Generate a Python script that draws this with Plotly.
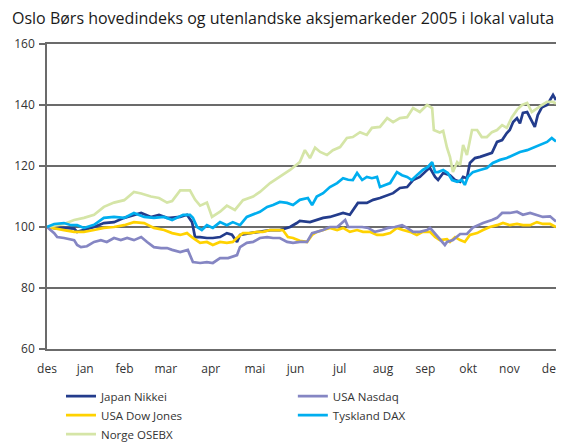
import plotly.graph_objects as go

# Month positions (0 = end of Dec 2004, 12 = end of Dec 2005)
month_ticks = [0, 0.9, 1.83, 2.8, 3.86, 4.9, 5.86, 6.9, 7.92, 8.92, 9.93, 10.9, 11.9]
month_labels = ["des", "jan", "feb", "mar", "apr", "mai", "jun", "jul", "aug", "sep", "okt", "nov", "des"]

nikkei_t = [0, 0.24, 0.40, 0.64, 0.71, 0.87, 1.11, 1.34, 1.58, 1.82, 2.05, 2.22, 2.45, 2.64, 2.83, 2.90, 3.14, 3.30, 3.42, 3.49, 3.61, 3.77, 3.91, 4.08, 4.24, 4.36, 4.48, 4.55, 4.79, 5.02, 5.26, 5.49, 5.73, 5.89, 5.96, 6.20, 6.36, 6.51, 6.67, 6.84, 6.98, 7.14, 7.26, 7.33, 7.54, 7.69, 7.85, 8.02, 8.16, 8.32, 8.49, 8.63, 8.79, 8.96, 9.03, 9.15, 9.22, 9.34, 9.50, 9.62, 9.74, 9.81, 9.90, 9.97, 10.09, 10.21, 10.37, 10.49, 10.61, 10.73, 10.84, 10.91, 10.99, 11.08, 11.15, 11.22, 11.32, 11.39, 11.50, 11.57, 11.67, 11.79, 11.86, 11.93, 12.00]
nikkei_v = [100, 99.5, 99.7, 99.5, 98.4, 99, 100, 101.3, 101.6, 103, 104, 104.6, 103.3, 104, 103, 103, 103.3, 104, 101.6, 96.7, 96.7, 96.4, 96.4, 96.7, 98, 97.5, 95.1, 97.4, 98, 98.4, 99, 99, 100, 101.3, 102, 101.6, 102.3, 103, 103.3, 104, 104.6, 104, 106.6, 107.9, 107.9, 108.9, 109.5, 110.5, 111.1, 112.8, 113.1, 115.4, 116.4, 118.7, 119.3, 116.4, 115.4, 117.7, 117, 115.4, 114.8, 116.4, 116, 121, 122.6, 123, 123.6, 124.3, 127.9, 128.5, 130.8, 131.8, 134.4, 135.7, 134, 137.4, 137.7, 135.7, 132.8, 136.7, 139.3, 140, 141.6, 143.3, 141.6]

dow_t = [0, 0.17, 0.40, 0.64, 0.87, 1.11, 1.34, 1.58, 1.82, 2.05, 2.29, 2.52, 2.76, 2.95, 3.14, 3.30, 3.44, 3.61, 3.77, 3.91, 4.08, 4.24, 4.38, 4.50, 4.62, 4.79, 4.95, 5.09, 5.26, 5.42, 5.56, 5.68, 5.80, 5.96, 6.13, 6.25, 6.36, 6.51, 6.67, 6.84, 6.98, 7.14, 7.31, 7.45, 7.61, 7.78, 7.92, 8.09, 8.25, 8.39, 8.56, 8.72, 8.86, 9.03, 9.15, 9.26, 9.43, 9.50, 9.62, 9.74, 9.85, 9.97, 10.14, 10.28, 10.44, 10.61, 10.75, 10.91, 11.08, 11.22, 11.39, 11.55, 11.69, 11.86, 12.00]
dow_v = [100, 99.5, 99, 98.4, 98.4, 99, 99.7, 100, 100.6, 101.6, 101.3, 99.7, 99, 98, 97.4, 98, 96.4, 94.8, 95.1, 94.1, 95.1, 94.8, 95.1, 96.7, 98, 98, 98.4, 98.4, 99, 99, 99, 96.7, 96.4, 95.5, 95.1, 97.4, 98.4, 99, 99.7, 99, 99.7, 98.4, 99, 98.4, 98.4, 97.4, 97.4, 98, 99.7, 99, 98.4, 97.4, 98.4, 98.4, 96.7, 95.7, 96, 95.1, 96.7, 95.7, 95.1, 97.4, 98, 99, 100, 100.6, 101.3, 100.6, 101, 100.6, 100.6, 101.6, 101, 101, 100]

osebx_t = [0, 0.17, 0.40, 0.64, 0.87, 1.11, 1.34, 1.58, 1.82, 2.05, 2.22, 2.45, 2.64, 2.83, 2.95, 3.14, 3.37, 3.49, 3.61, 3.77, 3.89, 4.08, 4.24, 4.43, 4.62, 4.86, 5.02, 5.26, 5.49, 5.73, 5.96, 6.08, 6.20, 6.32, 6.44, 6.60, 6.74, 6.91, 7.07, 7.21, 7.38, 7.54, 7.66, 7.85, 8.02, 8.16, 8.32, 8.49, 8.63, 8.79, 8.96, 9.08, 9.12, 9.26, 9.34, 9.43, 9.50, 9.57, 9.67, 9.74, 9.81, 9.90, 10.02, 10.14, 10.25, 10.37, 10.49, 10.61, 10.73, 10.84, 10.96, 11.08, 11.20, 11.32, 11.43, 11.55, 11.67, 11.79, 11.93, 12.00]
osebx_v = [100, 100.5, 101, 102.3, 103, 104, 106.6, 108, 108.8, 111.5, 111, 110, 109.5, 108, 108.5, 112, 112, 109, 107, 108, 103.3, 105, 107, 105.6, 108.8, 110, 111.5, 114.4, 116.4, 118.7, 121.3, 125.2, 122.6, 126, 124.6, 123.6, 125.2, 126.2, 129.2, 129.5, 131.1, 130.2, 132.5, 132.8, 135.7, 134.4, 135.7, 136, 139, 137.7, 140, 139, 131.8, 131, 131.5, 126, 123, 118, 121.3, 120.3, 126.9, 123.6, 131.8, 131.8, 129.5, 129.5, 131.1, 131.8, 133.4, 132.5, 136, 138.4, 140, 140.7, 137.7, 139, 140, 141, 141, 140.5]

nasdaq_t = [0, 0.17, 0.24, 0.40, 0.64, 0.71, 0.80, 0.94, 1.11, 1.27, 1.41, 1.58, 1.74, 1.89, 2.05, 2.22, 2.36, 2.52, 2.69, 2.83, 2.95, 3.14, 3.32, 3.44, 3.61, 3.77, 3.91, 4.08, 4.27, 4.48, 4.55, 4.71, 4.86, 5.02, 5.19, 5.33, 5.49, 5.66, 5.80, 5.96, 6.13, 6.25, 6.36, 6.51, 6.67, 6.84, 6.95, 7.03, 7.10, 7.26, 7.43, 7.57, 7.73, 7.90, 8.04, 8.20, 8.37, 8.49, 8.63, 8.79, 8.96, 9.03, 9.19, 9.38, 9.43, 9.57, 9.74, 9.90, 10.04, 10.28, 10.49, 10.61, 10.73, 10.91, 11.08, 11.22, 11.39, 11.55, 11.69, 11.86, 12.00]
nasdaq_v = [100, 98, 96.7, 96.4, 95.7, 94.1, 93.4, 93.7, 95.1, 95.7, 95.1, 96.4, 95.7, 96.4, 95.7, 96.7, 95.1, 93.4, 93.1, 93.1, 92.5, 91.8, 92.5, 88.5, 88.2, 88.5, 88.2, 89.8, 89.8, 90.8, 93.4, 94.8, 95.1, 96.4, 96.7, 96.4, 96.4, 95.1, 94.8, 95.1, 95.1, 98, 98.4, 99, 100, 100, 101.3, 102.3, 100, 100, 100, 99.7, 98.4, 99, 99.7, 100, 100.6, 99.7, 98.4, 98.4, 99, 99.7, 97, 94.1, 95.1, 95.7, 97.7, 97.7, 99.8, 101.3, 102.3, 103, 104.6, 104.6, 105, 104, 104.6, 103.8, 103.3, 103.5, 101.8]

dax_t = [0, 0.17, 0.40, 0.57, 0.71, 0.87, 1.11, 1.34, 1.58, 1.82, 2.05, 2.29, 2.52, 2.76, 2.95, 3.06, 3.21, 3.37, 3.44, 3.54, 3.65, 3.77, 3.91, 4.08, 4.24, 4.38, 4.55, 4.71, 4.86, 5.02, 5.19, 5.33, 5.49, 5.66, 5.80, 5.96, 6.15, 6.25, 6.36, 6.51, 6.67, 6.84, 6.98, 7.10, 7.21, 7.31, 7.43, 7.54, 7.66, 7.78, 7.85, 7.97, 8.09, 8.25, 8.37, 8.49, 8.60, 8.72, 8.86, 8.98, 9.08, 9.15, 9.22, 9.34, 9.45, 9.55, 9.67, 9.78, 9.85, 9.92, 10.04, 10.21, 10.37, 10.51, 10.68, 10.84, 10.99, 11.15, 11.32, 11.46, 11.62, 11.79, 11.90, 12.00]
dax_v = [100, 101, 101.3, 100.6, 100.6, 99.7, 100.7, 103, 103.3, 103, 104.6, 103.3, 103, 103.3, 102.3, 103, 104, 104, 103, 100, 99, 100.6, 99.7, 101.6, 100.6, 101.6, 100.6, 103.3, 104, 105, 106.6, 107.2, 108.2, 107.9, 107.2, 108.9, 109.5, 107.2, 110, 111.1, 113.1, 114.4, 116, 115.5, 115.4, 117.7, 115.4, 116.4, 116, 116.4, 113.1, 113.8, 114.4, 118, 117, 116.4, 115.4, 117, 118.7, 119.7, 121.3, 118, 118, 118.7, 117.7, 115.4, 114.8, 115.4, 113.8, 116.4, 118, 118.7, 119.3, 121, 122, 122.6, 123.6, 124.6, 125.2, 126, 126.9, 127.9, 129.2, 128]

series = [
    ("Japan Nikkei", nikkei_t, nikkei_v, "#233c8c", "legend"),
    ("USA Dow Jones", dow_t, dow_v, "#ffd200", "legend"),
    ("Norge OSEBX", osebx_t, osebx_v, "#d5e5a7", "legend"),
    ("USA Nasdaq", nasdaq_t, nasdaq_v, "#8586c3", "legend2"),
    ("Tyskland DAX", dax_t, dax_v, "#00aeef", "legend2"),
]

FONT = "Open Sans"
AX = "#6b6b6b"
W, H = 556, 435   # page body has an 8px default margin

fig = go.Figure()
for name, t, v, color, lg in series:
    fig.add_trace(go.Scatter(x=t, y=v, mode="lines", name=name, legend=lg,
                             line=dict(color=color, width=2.7)))

legend_style = dict(orientation="v", yanchor="top", xanchor="left",
                    font=dict(family=FONT, size=11.5, color="#333333"),
                    bgcolor="rgba(0,0,0,0)", tracegroupgap=0, traceorder="normal")

fig.update_layout(
    width=W, height=H,
    margin=dict(l=39, r=8, t=36, b=94, autoexpand=False),
    paper_bgcolor="white", plot_bgcolor="white",
    font=dict(family=FONT, size=12, color="#333333"),
    title=dict(text="Oslo Børs hovedindeks og utenlandske aksjemarkeder 2005 i lokal valuta",
               x=4/W, xref="container", xanchor="left",
               y=1 - 10/H, yref="container", yanchor="middle",
               font=dict(family=FONT, size=16, color="#1a1a1a")),
    showlegend=True,
    legend=dict(x=0.0275, y=-0.107, **legend_style),
    legend2=dict(x=0.483, y=-0.107, **legend_style),
)
fig.update_xaxes(range=[0, 12], tickvals=month_ticks, ticktext=month_labels,
                 showgrid=False, zeroline=False, showline=True, linecolor=AX,
                 linewidth=1.5, mirror=True, ticks="", ticklabelstandoff=8,
                 tickfont=dict(family=FONT, size=12, color="#333333"))
fig.update_yaxes(range=[60, 160], tickvals=[60, 80, 100, 120, 140, 160],
                 showgrid=True, gridcolor=AX, gridwidth=1.5, zeroline=False,
                 showline=True, linecolor=AX, linewidth=1.5, mirror=True,
                 ticks="outside", ticklen=6, tickcolor=AX, tickwidth=1.5,
                 ticklabelstandoff=2,
                 tickfont=dict(family=FONT, size=12, color="#333333"))

fig.write_html("out.html")
